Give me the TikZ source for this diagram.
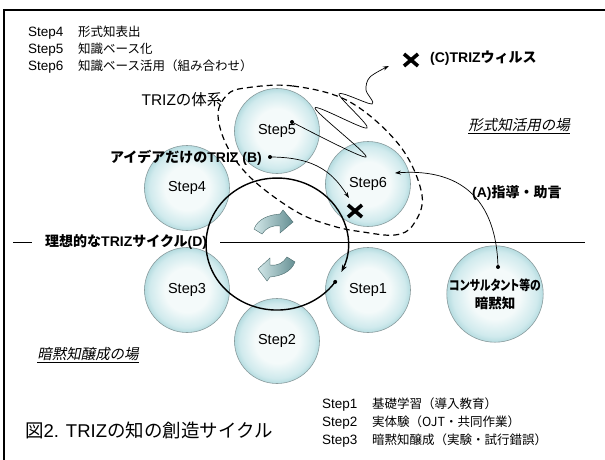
\documentclass[tikz,border=0pt]{standalone}
\usepackage{fontspec}
\usepackage{graphicx}
\setmainfont{Liberation Sans}
\newfontfamily\jp{Noto Sans CJK JP}
\newfontfamily\jpp[RawFeature=+palt]{Noto Sans CJK JP}
\newfontfamily\jpi[FakeSlant=0.2]{Noto Sans CJK JP}
\usetikzlibrary{arrows.meta,calc}
\definecolor{ballin}{HTML}{F4FAFA}
\definecolor{ballmid}{HTML}{D0EAED}
\definecolor{ballout}{HTML}{A3D2D7}
\definecolor{balledge}{HTML}{8A9C9E}
\definecolor{barlight}{HTML}{D2E7E8}
\definecolor{bardark}{HTML}{658F93}
\definecolor{baredge}{HTML}{4A6A6C}
\pgfdeclareradialshading{ballshade}{\pgfpoint{0bp}{0bp}}{color(0bp)=(ballin); color(13bp)=(ballin); color(22bp)=(ballmid); color(27bp)=(ballout); color(50bp)=(ballout)}
\tikzset{
  ball/.style={circle, minimum size=85pt, inner sep=0pt, draw=balledge, line width=0.6pt, shade, shading=ballshade, font=\fontsize{14.5}{16}\selectfont},
  annot/.style={anchor=west, inner sep=0pt, font=\fontsize{13.5}{15}\selectfont},
  boldlbl/.style={inner sep=0pt, font=\fontsize{14}{16}\selectfont\bfseries},
  place/.style={inner sep=0pt, font=\fontsize{14.5}{17}\selectfont\jpi},
  thinarr/.style={line width=0.7pt, -{Stealth[length=6pt,width=4pt]}},
  xmark/.style={line width=3.6pt},
  blockarr/.style={left color=barlight, right color=bardark, draw=baredge, line width=0.4pt},
  hline/.style={line width=0.9pt},
  dashcurve/.style={dash pattern=on 6pt off 4pt, line width=1.2pt},
  dot/.style={circle, fill=black, inner sep=0pt, minimum size=4pt}
}
\begin{document}
\begin{tikzpicture}[x=1pt,y=1pt]
\useasboundingbox (0,0) rectangle (605,459);
\fill[white] (0,0) rectangle (605,459);
% frame
\draw[line width=1.6pt] (4,-5) -- (4,449) -- (615,449);

% balls
\node[ball] (s5) at (277,328) {Step5};
\node[ball] (s6) at (368,275) {Step6};
\node[ball] (s4) at (187,271) {Step4};
\node[ball] (s3) at (187,169) {Step3};
\node[ball] (s2) at (277,118) {Step2};
\node[ball] (s1) at (368,169) {Step1};
\node[ball, font=\fontsize{13.5}{18}\selectfont\bfseries\jpp, align=center] (cons) at (495,165) {\scalebox{0.8}[1]{コンサルタント等の}\\暗黙知};

% TRIZ system dashed boundary
\draw[dashcurve] plot[smooth cycle, tension=0.6] coordinates {(245,371) (293,373) (350,357) (400,313) (422,264) (413,234) (395,224) (363,227) (333,233) (297,247) (253,279) (228,311) (218,344) (227,364)};

% horizontal line with label
\coordinate (hl) at (13,217);
\coordinate (hr) at (585,217);
\node[boldlbl, anchor=west] (dtext) at (45,217) {{\jp 理想的な}TRIZ{\jp サイクル}(D)};
\draw[hline] (hl) -- ([xshift=-13pt]dtext.west);
\draw[hline] ([xshift=13pt]dtext.east) -- (hr);

% ideal cycle
\coordinate (ddot) at (335.2,177.1);
\draw[line width=1.4pt, -{Stealth[length=7pt,width=5pt]}] (ddot) arc[start angle=-35, end angle=-385, x radius=71, y radius=66];
\node[dot] at (ddot) {};

% block arrows
\shade[blockarr] (254,230) .. controls (258,240) and (268,244) .. (280,245) -- (283,249) -- (293,237) -- (280,226) -- (280,233) .. controls (272,234) and (266,231) .. (262,225) -- cycle;
\shade[blockarr] (295,197) .. controls (291,187) and (281,183) .. (270,182) -- (267,178) -- (258,190) -- (270,201) -- (270,194) .. controls (278,193) and (283,196) .. (287,202) -- cycle;

% (C) virus wiggle
\coordinate (w0) at (292,337);
\coordinate (w9) at (389,393);
\draw[thinarr] plot[smooth, tension=0.55] coordinates {(w0) (366,302) (315,351) (367,331) (339,365) (372,355) (366,369) (370,382) (w9)};
\node[dot] at (w0) {};

% (B) arrow
\node[boldlbl, anchor=east] (btext) at (262,301) {{\jp アイデアだけの}TRIZ (B)};
\coordinate (bdot) at (270,302);
\coordinate (btip) at (349,261);
\draw[thinarr] (bdot) .. controls (318,302) and (334,284) .. (btip);
\node[dot] at (bdot) {};

% (A) arrow
\coordinate (adot) at (498,192);
\coordinate (atip) at (395,286);
\draw[thinarr] (adot) .. controls (496,270) and (450,290) .. (atip);
\node[dot] at (adot) {};

% X marks
\coordinate (xc) at (411,399);
\coordinate (xb) at (355,248);
\draw[xmark] (xc) +(-7,-6) -- +(7,6) +(-7,6) -- +(7,-6);
\draw[xmark] (xb) +(-7,-6) -- +(7,6) +(-7,6) -- +(7,-6);

% labels
\node[boldlbl, anchor=west] (ctext) at (430,401) {(C)TRIZ{\jp ウィルス}};
\node[boldlbl, anchor=west] (atext) at (472,266) {(A){\jp 指導・助言}};
\node[inner sep=0pt, font=\fontsize{15.5}{17}\selectfont] (sys) at (182,359) {TRIZ{\jp の体系}};
\node[place] (p1) at (519,333) {\underline{形式知活用の場}};
\node[place] (p2) at (88,104) {\underline{暗黙知醸成の場}};

% step legend top-left
\node[annot] (l4) at (28,426) {\makebox[50pt][l]{Step4}{\jp\fontsize{12.5}{15}\selectfont 形式知表出}};
\node[annot] (l5) at (28,409) {\makebox[50pt][l]{Step5}{\jp\fontsize{12.5}{15}\selectfont 知識ベース化}};
\node[annot] (l6) at (28,392) {\makebox[50pt][l]{Step6}{\jp\fontsize{12.5}{15}\selectfont 知識ベース活用（組み合わせ）}};

% step legend bottom-right
\node[annot] (l1) at (322,54) {\makebox[50pt][l]{Step1}{\jp\fontsize{12.5}{15}\selectfont 基礎学習（導入教育）}};
\node[annot] (l2) at (322,36) {\makebox[50pt][l]{Step2}{\jp\fontsize{12.5}{15}\selectfont 実体験（OJT・共同作業）}};
\node[annot] (l3) at (322,18) {\makebox[50pt][l]{Step3}{\jp\fontsize{12.5}{15}\selectfont 暗黙知醸成（実験・試行錯誤）}};

% caption
\node[anchor=west, inner sep=0pt, font=\fontsize{18.5}{20}\selectfont] (cap) at (25,29) {{\jp 図}2. TRIZ{\jp の知の創造サイクル}};
\end{tikzpicture}
\end{document}
